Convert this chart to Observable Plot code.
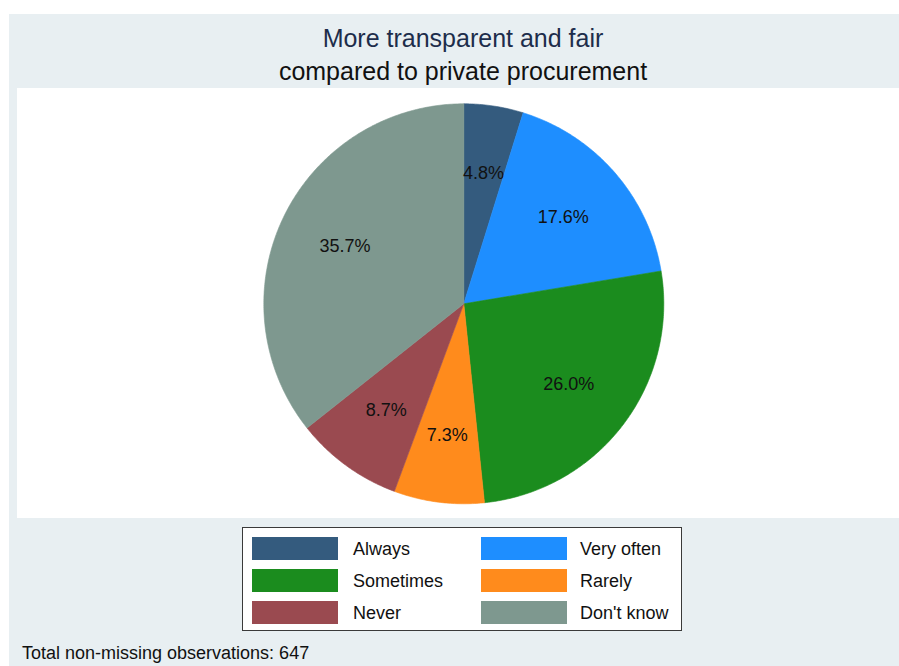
<!DOCTYPE html>
<html>
<head>
<meta charset="utf-8">
<script src="https://cdn.jsdelivr.net/npm/d3@7"></script>
<script src="https://cdn.jsdelivr.net/npm/@observablehq/plot@0.6"></script>
<style>
  html, body { margin: 0; padding: 0; background: #ffffff; }
  body { width: 899px; height: 666px; position: relative; overflow: hidden;
         font-family: "Liberation Sans", Arial, sans-serif; }
  #panel { position: absolute; left: 9px; top: 14px; width: 890px; height: 652px; background: #e8eff2; }
  .abs { position: absolute; white-space: nowrap; line-height: 1; }
  #plotarea { position: absolute; left: 17px; top: 88px; width: 882px; height: 430px; background: #ffffff; }
  #legend { position: absolute; left: 242px; top: 527px; width: 440px; height: 104px;
            background: #ffffff; border: 1px solid #3a3a3a; box-sizing: border-box; }
  .sw { position: absolute; width: 86px; height: 23px; }
  .lt { position: absolute; font-size: 18px; line-height: 1; color: #111; white-space: nowrap; }
</style>
</head>
<body>
<div id="panel"></div>
<div class="abs" style="left:0;width:926px;text-align:center;top:26px;font-size:25px;color:#1d2d4b;">More transparent and fair</div>
<div class="abs" style="left:0;width:926px;text-align:center;top:59px;font-size:25px;color:#111;">compared to private procurement</div>
<div id="plotarea"></div>
<div id="legend"></div>
<div class="abs" style="left:22px;top:644px;font-size:18px;color:#111;">Total non-missing observations: 647</div>
<script>
// ---- data ----
const categories = ["Always", "Very often", "Sometimes", "Rarely", "Never", "Don't know"];
const percents = [4.8, 17.6, 26.0, 7.3, 8.7, 35.7];
const colors = ["#345b7e", "#1e8eff", "#1b8c1e", "#ff8b1c", "#9a4a50", "#7e988f"];
const caption = "Total non-missing observations: 647";

// ---- slice geometry from the data (d3.pie: 0 at 12 o'clock, clockwise) ----
const pie = d3.pie().sort(null).value(d => d.value);
const arcs = pie(categories.map((c, i) => ({category: c, value: percents[i]})));

const slicePts = [];
for (const a of arcs) {
  const cat = a.data.category;
  slicePts.push({category: cat, x: 0, y: 0});
  const n = Math.max(4, Math.ceil((a.endAngle - a.startAngle) / 0.01));
  for (let k = 0; k <= n; k++) {
    const t = a.startAngle + (a.endAngle - a.startAngle) * k / n;
    slicePts.push({category: cat, x: Math.sin(t), y: Math.cos(t)});
  }
  slicePts.push({category: cat, x: 0, y: 0});
}
const labels = arcs.map(a => {
  const m = (a.startAngle + a.endAngle) / 2;
  return {x: 0.66 * Math.sin(m), y: 0.66 * Math.cos(m), text: a.data.value.toFixed(1) + "%"};
});

// ---- plot: unit circle, 200px radius, centre at (446.3, 215.3) in svg ----
const W = 882, H = 430, R = 200, cx = 446.3, cy = 215.3;
const chart = Plot.plot({
  width: W, height: H,
  margin: 0,
  x: {domain: [-cx / R, (W - cx) / R], axis: null},
  y: {domain: [(cy - H) / R, cy / R], axis: null},
  color: {domain: categories, range: colors},
  style: {background: "transparent", fontFamily: "'Liberation Sans', Arial, sans-serif"},
  marks: [
    Plot.line(slicePts, {x: "x", y: "y", z: "category", fill: "category", stroke: "category", strokeWidth: 0.6, curve: "linear"}),
    Plot.text(labels, {x: "x", y: "y", text: "text", fontSize: 18, fill: "#111"})
  ]
});
chart.style.position = "absolute";
chart.style.left = "0px";
chart.style.top = "0px";
document.getElementById("plotarea").appendChild(chart);

// ---- legend ----
const legend = document.getElementById("legend");
categories.forEach((c, i) => {
  const col = i % 2, row = Math.floor(i / 2);
  const sw = document.createElement("div");
  sw.className = "sw";
  sw.style.left = (col === 0 ? 9 : 238) + "px";
  sw.style.top = (9 + row * 32) + "px";
  sw.style.background = colors[i];
  legend.appendChild(sw);
  const t = document.createElement("div");
  t.className = "lt";
  t.textContent = c;
  t.style.left = (col === 0 ? 110 : 337) + "px";
  t.style.top = (11.5 + row * 32) + "px";
  legend.appendChild(t);
});
</script>
</body>
</html>
